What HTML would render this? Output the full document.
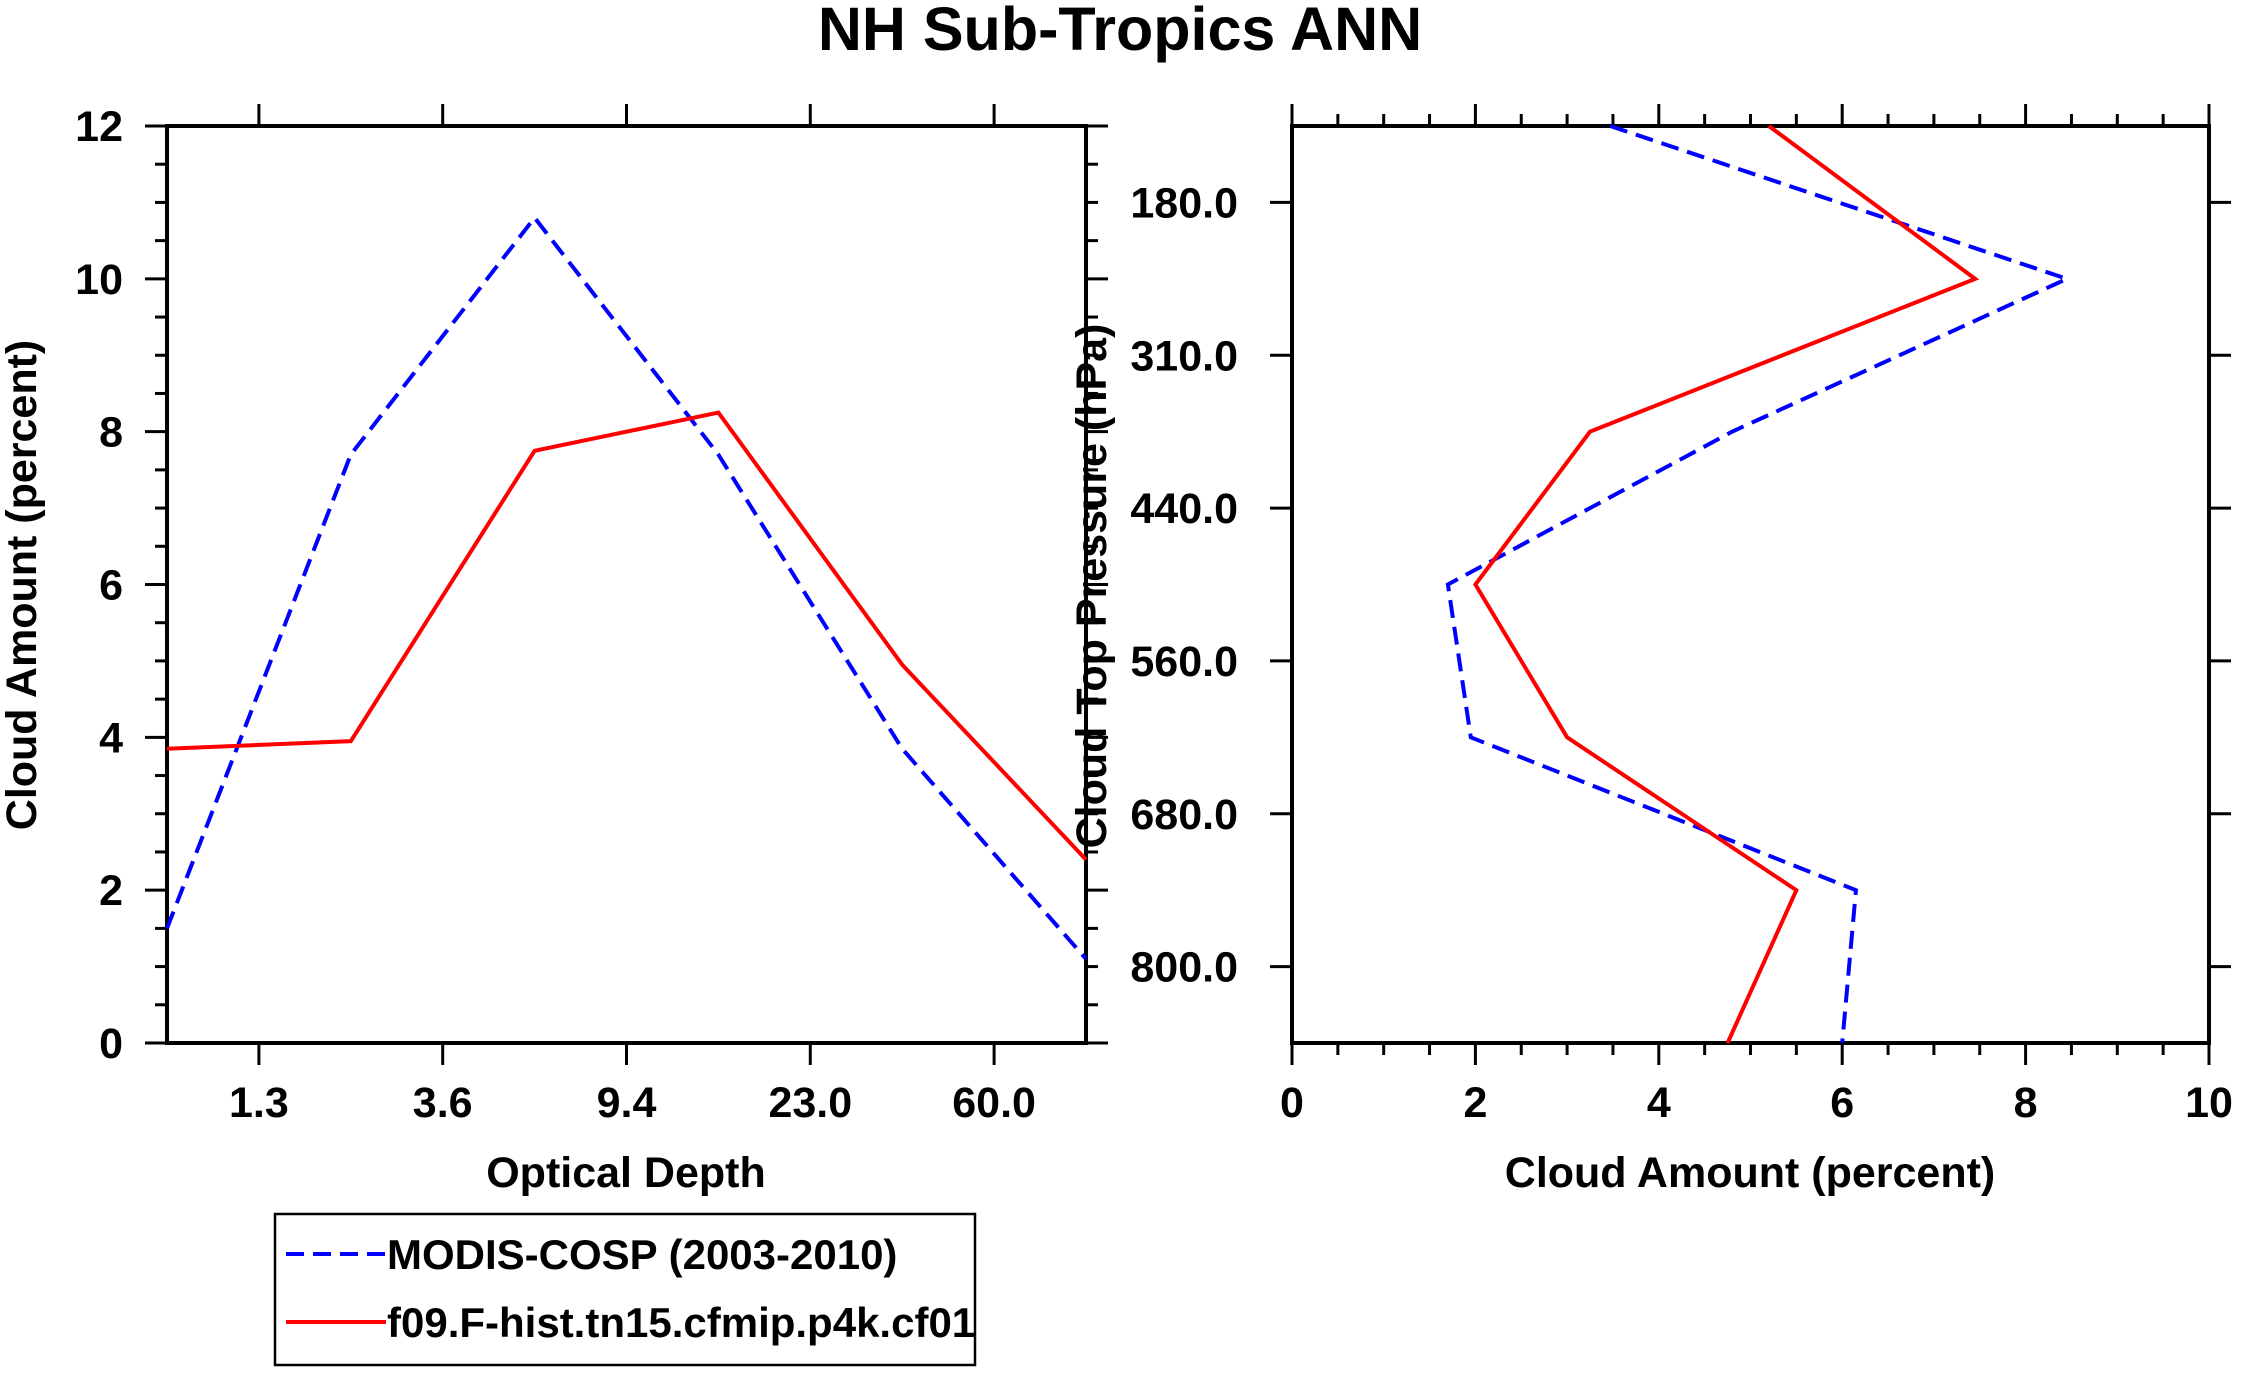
<!DOCTYPE html>
<html><head><meta charset="utf-8"><style>
html,body{margin:0;padding:0;background:#fff;}
svg{display:block;font-family:"Liberation Sans",sans-serif;font-weight:bold;}
</style></head><body>
<svg id="c" width="2241" height="1373" viewBox="0 0 2241 1373" xmlns="http://www.w3.org/2000/svg">
<text x="1120" y="50" font-size="61" text-anchor="middle">NH Sub-Tropics ANN</text>
<g>
<rect x="275" y="1214" width="700" height="151" fill="none" stroke="#000" stroke-width="2.5"/>
<line x1="286" y1="1254" x2="386" y2="1254" stroke="#0000ff" stroke-width="4" stroke-dasharray="18 9"/>
<text x="387" y="1269" font-size="42">MODIS-COSP (2003-2010)</text>
<line x1="286" y1="1322" x2="386" y2="1322" stroke="#ff0000" stroke-width="4"/>
<text x="387" y="1337" font-size="42">f09.F-hist.tn15.cfmip.p4k.cf01</text>
</g>
</svg>
<script>
// Left panel data
const tauLabels = ["1.3","3.6","9.4","23.0","60.0"];
const modisTau = [1.5, 7.7, 10.8, 7.7, 3.85, 1.1];
const modelTau = [3.85, 3.95, 7.75, 8.25, 4.95, 2.4];
const leftYTicks = [0,2,4,6,8,10,12];
// Right panel data
const pLabels = ["180.0","310.0","440.0","560.0","680.0","800.0"];
const modisP = [3.47, 8.45, 4.8, 1.7, 1.95, 6.15, 6.0];
const modelP = [5.2, 7.45, 3.25, 2.0, 3.0, 5.5, 4.75];
const rightXTicks = [0,2,4,6,8,10];

const svg = document.getElementById('c');
const NS = 'http://www.w3.org/2000/svg';
function mk(tag, attrs, name){
  const e = document.createElementNS(NS, tag);
  for (const k in attrs) e.setAttribute(k, attrs[k]);
  
  
  svg.appendChild(e); return e;
}
function line(x1,y1,x2,y2,name,w){ return mk('line',{x1,y1,x2,y2,stroke:'#000','stroke-width':w||3.5},name); }
function txt(x,y,s,size,anchor,name,extra){ const t=mk('text',Object.assign({x,y,'font-size':size,'text-anchor':anchor},extra||{}),name); t.textContent=s; return t; }

// Left panel
const L={x0:167,x1:1086,y0:126,y1:1043};
const lx = i => L.x0 + i/5*(L.x1-L.x0);
const ly = v => L.y1 - v/12*(L.y1-L.y0);
for (let v=0; v<=12; v+=0.5){
  const major = v%2===0; const len = major?22:12;
  line(L.x0-len, ly(v), L.x0, ly(v), 'left-y-tick', 3);
  line(L.x1, ly(v), L.x1+len, ly(v), 'left-y-tick-right', 3);
}
leftYTicks.forEach(v=>txt(L.x0-44, ly(v)+15, String(v), 43, 'end', 'left-y-tick-label'));
tauLabels.forEach((s,i)=>{
  const x = lx(i+0.5);
  line(x, L.y1, x, L.y1+22, 'left-x-tick', 3);
  line(x, L.y0-22, x, L.y0, 'left-x-tick-top', 3);
  txt(x, L.y1+74, s, 43, 'middle', 'left-x-tick-label');
});
mk('rect',{x:L.x0,y:L.y0,width:L.x1-L.x0,height:L.y1-L.y0,fill:'none',stroke:'#000','stroke-width':4},'left-plot-frame');
txt(626, 1187, 'Optical Depth', 43, 'middle', 'left-x-axis-title');
txt(0,0,'Cloud Amount (percent)',43,'middle','left-y-axis-title',{transform:'translate(36,585) rotate(-90)'});
function poly(pts,color,dash,name){
  const a={points:pts.map(p=>p.join(',')).join(' '),fill:'none',stroke:color,'stroke-width':4};
  if(dash) a['stroke-dasharray']=dash;
  mk('polyline',a,name);
}
poly(modisTau.map((v,i)=>[lx(i),ly(v)]),'#0000ff','18 9','left-series-modis');
poly(modelTau.map((v,i)=>[lx(i),ly(v)]),'#ff0000',null,'left-series-model');

// Right panel
const R={x0:1292,x1:2209,y0:126,y1:1043};
const rx = v => R.x0 + v/10*(R.x1-R.x0);
const ry = i => R.y0 + i/6*(R.y1-R.y0);
for (let v=0; v<=10; v+=0.5){
  const major = v%2===0; const len = major?22:12;
  line(rx(v), R.y1, rx(v), R.y1+len, 'right-x-tick', 3);
  line(rx(v), R.y0-len, rx(v), R.y0, 'right-x-tick-top', 3);
}
rightXTicks.forEach(v=>txt(rx(v), R.y1+74, String(v), 43, 'middle', 'right-x-tick-label'));
pLabels.forEach((s,i)=>{
  const y = ry(i+0.5);
  line(R.x0-22, y, R.x0, y, 'right-y-tick', 3);
  line(R.x1, y, R.x1+22, y, 'right-y-tick-right', 3);
  txt(R.x0-54, y+15, s, 43, 'end', 'right-y-tick-label');
});
mk('rect',{x:R.x0,y:R.y0,width:R.x1-R.x0,height:R.y1-R.y0,fill:'none',stroke:'#000','stroke-width':4},'right-plot-frame');
txt(1750, 1187, 'Cloud Amount (percent)', 43, 'middle', 'right-x-axis-title');
txt(0,0,'Cloud Top Pressure (hPa)',43,'middle','right-y-axis-title',{transform:'translate(1106,586) rotate(-90)'});
poly(modisP.map((v,i)=>[rx(v),ry(i)]),'#0000ff','18 9','right-series-modis');
poly(modelP.map((v,i)=>[rx(v),ry(i)]),'#ff0000',null,'right-series-model');
</script>
</body></html>
